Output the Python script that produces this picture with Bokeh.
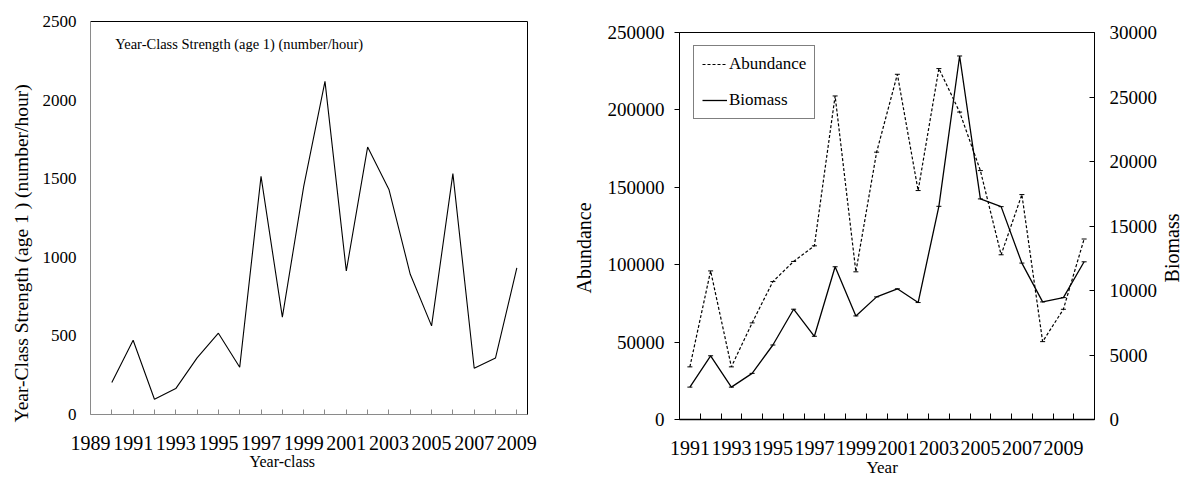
from math import pi
from bokeh.plotting import figure
from bokeh.layouts import row
from bokeh.models import (Range1d, LinearAxis, FixedTicker, Label, Legend, LegendItem,
                          BasicTickFormatter, Title)
from bokeh.embed import file_html
from bokeh.resources import INLINE

FONT = "Liberation Serif"

# ---- Left chart: year-class strength ----
yc_years = list(range(1990, 2010))
yc_strength = [203, 472, 97, 165, 360, 517, 301, 1515, 619, 1450,
               2119, 913, 1701, 1432, 892, 564, 1532, 294, 360, 932]
yc_ticks = [0, 500, 1000, 1500, 2000, 2500]
yc_xlabels = list(range(1989, 2010, 2))
yc_xminor = list(range(1990, 2010, 2))

# ---- Right chart: abundance & biomass ----
years = list(range(1991, 2011))
abundance = [34000, 96000, 34000, 62400, 89100, 102100, 112200, 209000, 95400, 172700,
             223000, 147900, 226700, 198600, 160800, 106400, 145300, 50300, 71200, 116600]
biomass = [2510, 4940, 2510, 3575, 5775, 8550, 6450, 11840, 8030, 9505,
           10130, 9065, 16525, 28180, 17100, 16500, 12125, 9115, 9450, 12225]
ab_ticks = [0, 50000, 100000, 150000, 200000, 250000]
bio_ticks = [0, 5000, 10000, 15000, 20000, 25000, 30000]
yr_labels = list(range(1991, 2010, 2))
yr_bounds = [y + 0.5 for y in range(1991, 2010)]

GRAY = "#8a8a8a"


def no_align(p):
    try:
        p.frame_align = False
    except Exception:
        pass


def side_title(text, size, align, offset, valign, standoff):
    return Title(text=text, align=align, offset=offset, vertical_align=valign,
                 standoff=standoff, text_font=FONT, text_font_size=size,
                 text_font_style="normal", text_color="black")


# ================= Left figure =================
p1 = figure(width=560, height=483, output_backend="svg", toolbar_location=None,
            x_range=Range1d(1989, 2009.5), y_range=Range1d(0, 2500),
            min_border_left=88, min_border_right=33, min_border_top=21,
            min_border_bottom=69)
no_align(p1)
p1.outline_line_color = None
p1.grid.visible = False

p1.line(yc_years, yc_strength, color="black", line_width=1.1)

xa = p1.xaxis[0]
xa.ticker = FixedTicker(ticks=yc_xlabels, minor_ticks=yc_xminor)
xa.axis_line_color = GRAY
xa.major_tick_line_color = GRAY
xa.minor_tick_line_color = GRAY
xa.major_tick_in = 5
xa.major_tick_out = 0
xa.minor_tick_in = 5
xa.minor_tick_out = 0
xa.major_label_text_font = FONT
xa.major_label_text_font_size = "20px"
xa.major_label_text_color = "black"
xa.major_label_standoff = 21

ya = p1.yaxis[0]
ya.ticker = FixedTicker(ticks=yc_ticks)
ya.axis_line_color = GRAY
ya.major_tick_line_color = None
ya.major_tick_in = 0
ya.major_tick_out = 0
ya.minor_tick_line_color = None
ya.major_label_text_font = FONT
ya.major_label_text_font_size = "17px"
ya.major_label_text_color = "black"
ya.major_label_standoff = 14

for side in ("above", "right"):
    ax = LinearAxis(ticker=FixedTicker(ticks=[]), axis_line_color="black",
                    major_label_text_font_size="0px", major_tick_line_color=None,
                    minor_tick_line_color=None)
    p1.add_layout(ax, side)

p1.add_layout(side_title("Year-Class Strength (age 1 ) (number/hour)", "19.5px",
                         "left", -8, "bottom", 16), "left")
p1.add_layout(side_title("Year-class", "16px", "left", 159, "top", 0), "below")
p1.add_layout(Label(x=24.7, y=371, x_units="screen", y_units="screen",
                    text="Year-Class Strength (age 1) (number/hour)",
                    text_font=FONT, text_font_size="14.5px", text_align="left",
                    text_baseline="middle", text_color="black"))

# ================= Right figure =================
p2 = figure(width=600, height=483, output_backend="svg", toolbar_location=None,
            x_range=Range1d(1990.5, 2010.5), y_range=Range1d(0, 250000),
            min_border_left=117, min_border_right=65, min_border_top=32,
            min_border_bottom=64)
no_align(p2)
p2.extra_y_ranges = {"bio": Range1d(0, 30000)}
p2.outline_line_color = "black"
p2.outline_line_width = 1
p2.grid.visible = False

ab = p2.line(years, abundance, color="black", line_width=1.2, line_dash="3 2")
p2.scatter(years, abundance, marker="dash", size=5, color="black", line_width=1)
bi = p2.line(years, biomass, color="black", line_width=1.3, y_range_name="bio")
p2.scatter(years, biomass, marker="dash", size=5, color="black", line_width=1,
           y_range_name="bio")

xb = p2.xaxis[0]
xb.ticker = FixedTicker(ticks=yr_labels, minor_ticks=yr_bounds)
xb.axis_line_color = "black"
xb.axis_line_width = 1.5
xb.major_tick_in = 0
xb.major_tick_out = 0
xb.major_tick_line_color = None
xb.minor_tick_in = 6
xb.minor_tick_out = 0
xb.minor_tick_line_color = "black"
xb.major_label_text_font = FONT
xb.major_label_text_font_size = "20px"
xb.major_label_text_color = "black"
xb.major_label_standoff = 21

yb = p2.yaxis[0]
yb.ticker = FixedTicker(ticks=ab_ticks)
yb.formatter = BasicTickFormatter(use_scientific=False)
yb.axis_line_color = "black"
yb.major_tick_in = 0
yb.major_tick_out = 5
yb.major_tick_line_color = "black"
yb.minor_tick_line_color = None
yb.major_label_text_font = FONT
yb.major_label_text_font_size = "19px"
yb.major_label_text_color = "black"
yb.major_label_standoff = 10

yr = LinearAxis(y_range_name="bio", ticker=FixedTicker(ticks=bio_ticks),
                formatter=BasicTickFormatter(use_scientific=False),
                axis_line_color="black", major_tick_in=5, major_tick_out=0,
                major_tick_line_color="black", minor_tick_line_color=None,
                major_label_text_font=FONT, major_label_text_font_size="19px",
                major_label_text_color="black", major_label_standoff=15)
p2.add_layout(yr, "right")

legend = Legend(items=[LegendItem(label="Abundance", renderers=[ab]),
                       LegendItem(label="Biomass", renderers=[bi])],
                location=(14, 300), border_line_color="black", border_line_width=1,
                background_fill_color="white", background_fill_alpha=1.0,
                padding=8, spacing=16, glyph_width=25, glyph_height=20,
                label_height=20, label_standoff=2, margin=0,
                label_text_font=FONT, label_text_font_size="17px",
                label_text_color="black")
p2.add_layout(legend)

p2.add_layout(side_title("Abundance", "20px", "left", 126, "bottom", 20), "left")
p2.add_layout(side_title("Year", "17px", "left", 187, "top", 0), "below")

# ================= Narrow strip holding the right-hand axis title =================
p3 = figure(width=22, height=483, output_backend="svg", toolbar_location=None,
            x_range=Range1d(0, 1), y_range=Range1d(0, 1),
            x_axis_type=None, y_axis_type=None, min_border=0)
no_align(p3)
p3.outline_line_color = None
p3.add_layout(Label(x=11, y=235.5, x_units="screen", y_units="screen",
                    text="Biomass", angle=pi / 2, text_font=FONT,
                    text_font_size="20px", text_align="center",
                    text_baseline="middle", text_color="black"))

layout = row(p1, p2, p3)
open("out.html", "w").write(file_html(layout, INLINE))
